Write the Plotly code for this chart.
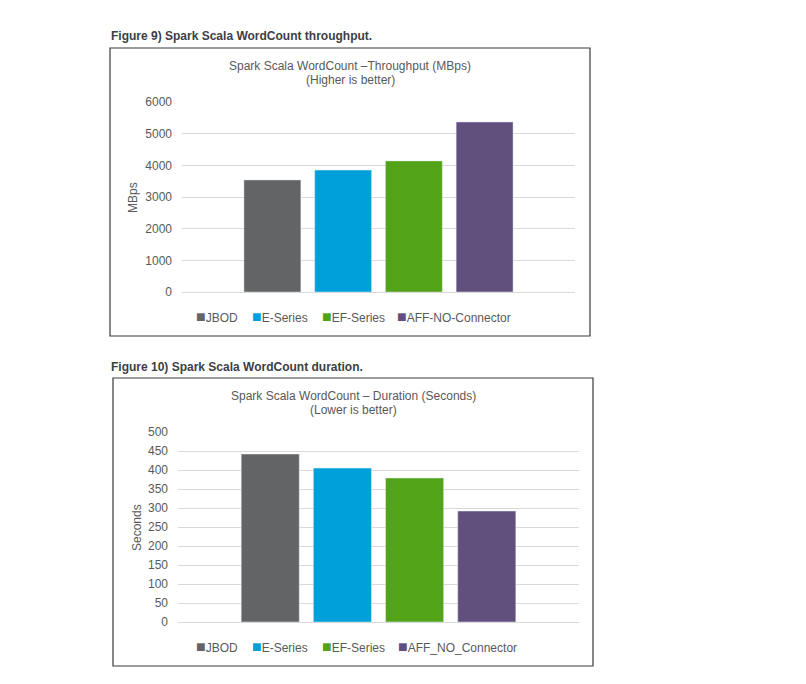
import plotly.graph_objects as go

# ---- data ----
series_tp = ["JBOD", "E-Series", "EF-Series", "AFF-NO-Connector"]
throughput_mbps = [3540, 3850, 4140, 5370]

series_dur = ["JBOD", "E-Series", "EF-Series", "AFF_NO_Connector"]
duration_sec = [442, 405, 379, 292]

colors = ["#636466", "#00a0da", "#53a318", "#614f7d"]

# page is rendered with an 8px body margin
OFF = 8
W, H = 790, 668
FONT = "Liberation Sans, Arial, sans-serif"
TXT = "#595959"


def px_x(x):
    return (x - OFF) / W


def px_y(y):
    return 1 - (y - OFF) / H


fig = go.Figure()

for name, val, col in zip(series_tp, throughput_mbps, colors):
    fig.add_trace(go.Bar(x=[""], y=[val], name=name, marker_color=col,
                         xaxis="x", yaxis="y", showlegend=False))
for name, val, col in zip(series_dur, duration_sec, colors):
    fig.add_trace(go.Bar(x=[""], y=[val], name=name, marker_color=col,
                         xaxis="x2", yaxis="y2", showlegend=False))

axis_common_y = dict(showgrid=True, gridcolor="#d9d9d9", gridwidth=1,
                     zeroline=True, zerolinecolor="#d9d9d9", zerolinewidth=1,
                     showline=False, ticks="",
                     tickfont=dict(family=FONT, size=12, color=TXT),
                     ticklabelstandoff=9)
axis_common_x = dict(showticklabels=False, showgrid=False, zeroline=False,
                     showline=False, ticks="", range=[-0.5, 0.5])

fig.update_layout(
    width=W, height=H,
    margin=dict(l=0, r=0, t=0, b=0, autoexpand=False),
    paper_bgcolor="white", plot_bgcolor="white",
    barmode="group", bargap=0.28, bargroupgap=0.195,
    font=dict(family=FONT, size=12, color=TXT),
    xaxis=dict(domain=[px_x(182), px_x(575)], anchor="y", **axis_common_x),
    yaxis=dict(domain=[px_y(292), px_y(102)], anchor="x", range=[0, 6000],
               dtick=1000, **axis_common_y),
    xaxis2=dict(domain=[px_x(178), px_x(579)], anchor="y2", **axis_common_x),
    yaxis2=dict(domain=[px_y(622), px_y(432)], anchor="x2", range=[0, 500],
                dtick=50, **axis_common_y),
    showlegend=False,
)

# chart boxes
for (x0, y0, x1, y1) in [(110, 48, 590, 336), (113, 378, 593, 666)]:
    fig.add_shape(type="rect", xref="paper", yref="paper",
                  x0=px_x(x0), x1=px_x(x1), y0=px_y(y1), y1=px_y(y0),
                  line=dict(color="#3a3a3a", width=1.2), fillcolor="rgba(0,0,0,0)",
                  layer="below")

CAP = dict(family=FONT, size=12, color="#3b3f45")
annotations = [
    dict(text="<b>Figure 9) Spark Scala WordCount throughput.</b>", x=px_x(109), y=px_y(36),
         xanchor="left", yanchor="middle", font=CAP),
    dict(text="<b>Figure 10) Spark Scala WordCount duration.</b>", x=px_x(109), y=px_y(367),
         xanchor="left", yanchor="middle", font=CAP),
    dict(text="Spark Scala WordCount –Throughput (MBps)", x=px_x(350), y=px_y(66)),
    dict(text="(Higher is better)", x=px_x(350), y=px_y(80)),
    dict(text="Spark Scala WordCount – Duration (Seconds)", x=px_x(353), y=px_y(396)),
    dict(text="(Lower is better)", x=px_x(353), y=px_y(410)),
    dict(text="MBps", x=px_x(133), y=px_y(198), textangle=-90),
    dict(text="Seconds", x=px_x(137), y=px_y(528), textangle=-90),
]

# legends (one entry per series, drawn as text)
legend_x1 = [195, 251, 321, 396]
legend_x2 = [195, 251, 321, 397]
for names, xs, ly in [(series_tp, legend_x1, 316.5), (series_dur, legend_x2, 646.5)]:
    for name, col, lx in zip(names, colors, xs):
        annotations.append(dict(
            text=f"<span style='color:{col};font-size:16px'>■</span>{name}",
            x=px_x(lx - 1), y=px_y(ly), xanchor="left", yanchor="middle"))

for a in annotations:
    a.setdefault("xanchor", "center")
    a.setdefault("yanchor", "middle")
    a.setdefault("font", dict(family=FONT, size=12, color=TXT))
    a.update(xref="paper", yref="paper", showarrow=False)
fig.update_layout(annotations=annotations)

fig.write_html("out.html")
